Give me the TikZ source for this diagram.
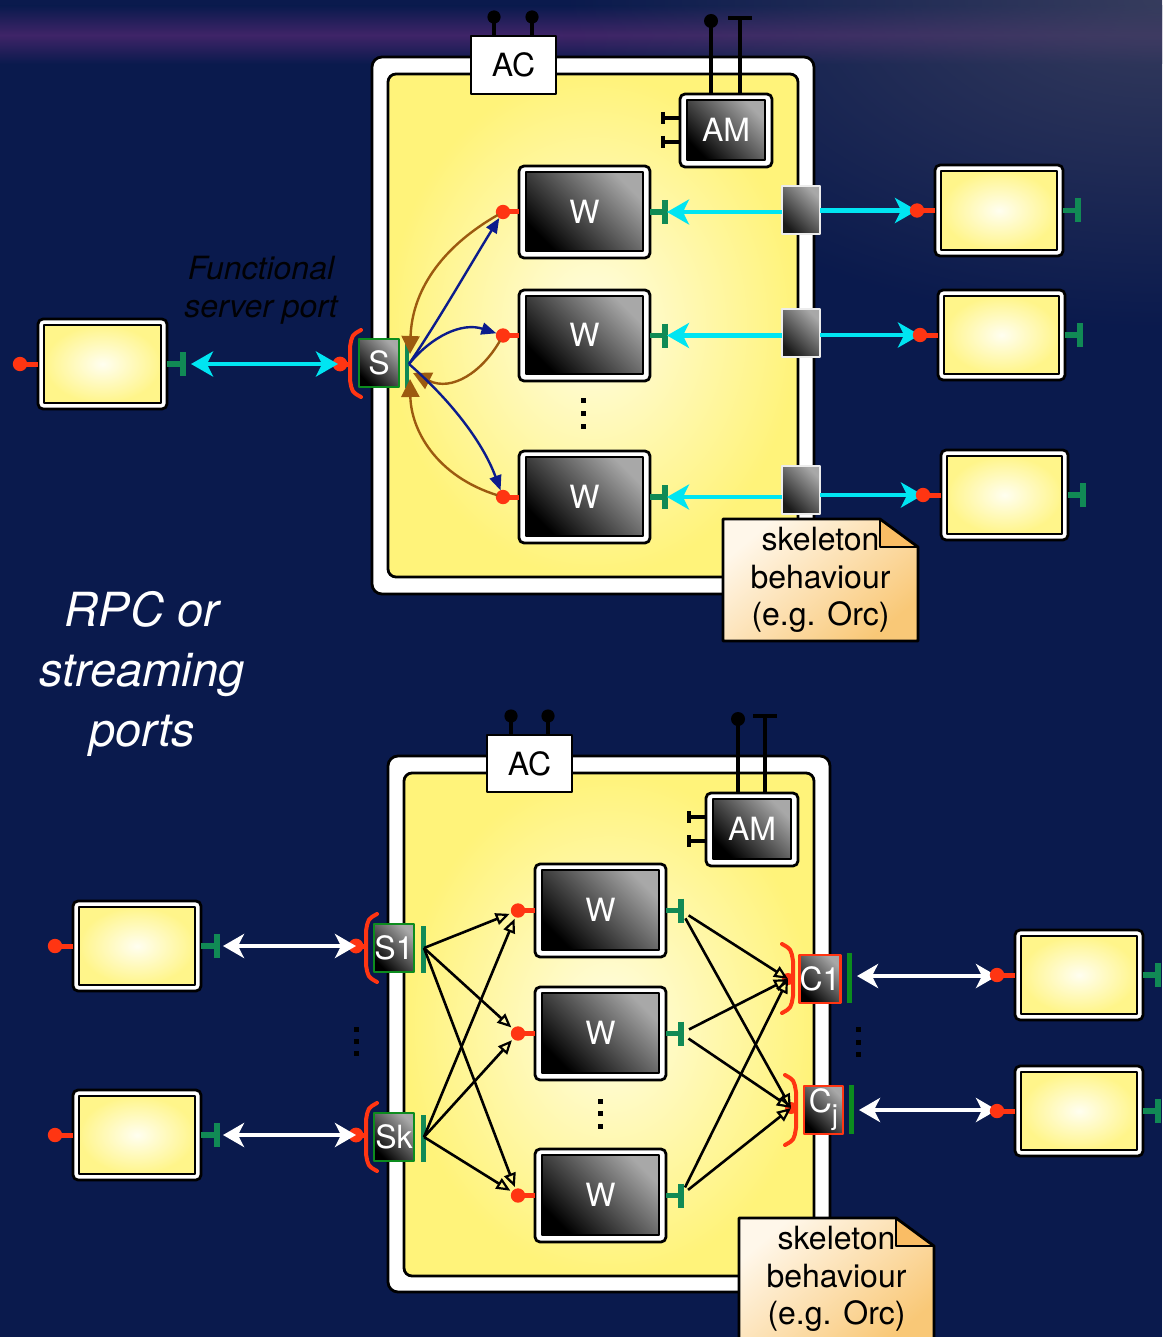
\documentclass[tikz,border=0pt]{standalone}
\usepackage{fontspec}
\setmainfont{TeX Gyre Heros}
\usetikzlibrary{arrows.meta,calc,fadings}

\definecolor{navybg}{HTML}{0A1A4D}
\definecolor{bandpurple}{HTML}{3F2468}
\definecolor{cornergrey}{HTML}{3E4260}
\definecolor{cyanA}{HTML}{00E5F2}
\definecolor{redP}{HTML}{FF3512}
\definecolor{tealT}{HTML}{118A55}
\definecolor{greenB}{HTML}{0C8C1E}
\definecolor{blueA}{HTML}{0C1C8C}
\definecolor{brownA}{HTML}{9C5A10}
\definecolor{ylight}{HTML}{FFFEF0}
\definecolor{ydeep}{HTML}{FFF58A}
\definecolor{cinner}{HTML}{FFFDE4}
\definecolor{couter}{HTML}{FFF37A}
\definecolor{noteA}{HTML}{FFF7EA}
\definecolor{noteB}{HTML}{F9C877}
\definecolor{dgrey}{HTML}{A8A8A8}

\tikzfading[name=cornerfade, inner color=transparent!15, outer color=transparent!100]

\newcommand\wfont{\fontsize{16}{16}\selectfont}

% box from pixel corners: name, style, x1, y1, x2, y2, text
\newcommand\bx[7]{%
  \pgfmathsetmacro\bxw{((#5)-(#3))/2}%
  \pgfmathsetmacro\bxh{((#6)-(#4))/2}%
  \pgfmathsetmacro\bxcx{((#3)+(#5))/2}%
  \pgfmathsetmacro\bxcy{((#4)+(#6))/2}%
  \node[#2,minimum width=\bxw pt,minimum height=\bxh pt] (#1) at (\bxcx,\bxcy) {#7};}
% worker: white frame with dark inner box
\newcommand\wk[6]{%
  \bx{#1f}{frame}{#2}{#3}{#4}{#5}{}%
  \bx{#1}{darkbox}{(#2)+7}{(#3)+6}{(#4)-7}{(#5)-7}{#6}}
% external component: white frame with yellow inner box
\newcommand\yb[5]{%
  \bx{#1f}{frame}{#2}{#3}{#4}{#5}{}%
  \bx{#1}{ybox}{(#2)+6}{(#3)+6}{(#4)-6}{(#5)-6}{}}
% red client port (lollipop) and green server port (T bar)
\newcommand\inport[3]{%
  \coordinate (#2) at ($(#1.west)+(-#3,0)$);
  \draw[redline] (#2) -- (#1.west);
  \fill[redP] (#2) circle (3.6pt);}
\newcommand\outport[3]{%
  \coordinate (#2) at ($(#1.east)+(#3,0)$);
  \draw[greenline] (#1.east) -- (#2);
  \draw[greenline] ($(#2)+(0,-12)$) -- ($(#2)+(0,12)$);}
% port brackets: body x, top y, bottom y
\newcommand\portbrL[3]{%
  \draw[redP, line width=2pt, line cap=round] ({#1+11},#2) .. controls ({#1+2},{#2+5}) .. (#1,{#2+17})
    -- (#1,{#3-17}) .. controls ({#1+2},{#3-5}) .. ({#1+11},#3);}
\newcommand\portbrR[3]{%
  \draw[redP, line width=2pt, line cap=round] ({#1-11},#2) .. controls ({#1-2},{#2+5}) .. (#1,{#2+17})
    -- (#1,{#3-17}) .. controls ({#1-2},{#3-5}) .. ({#1-11},#3);}
% note with folded corner: name, x1, y1, x2, y2, text
\newcommand\skelnote[6]{%
  \shade[top color=noteA, bottom color=noteB, shading angle=40]
    (#2,#3) -- ({#4-38},#3) -- (#4,{#3+28}) -- (#4,#5) -- (#2,#5) -- cycle;
  \fill[noteB!85!orange] ({#4-38},#3) -- (#4,{#3+28}) -- ({#4-38},{#3+28}) -- cycle;
  \draw[black, line width=1.4pt, line join=round]
    (#2,#5) -- (#2,#3) -- ({#4-38},#3) -- (#4,{#3+28}) -- (#4,#5) -- cycle;
  \draw[black, line width=1.2pt] ({#4-38},#3) -- ({#4-38},{#3+28}) -- (#4,{#3+28});
  \node[font=\fontsize{16}{18.8}\selectfont, align=center, inner sep=0pt] (#1) at ({(#2+#4)/2},{#3+61}) {#6};}

\begin{document}
\begin{tikzpicture}[x=0.5pt,y=-0.5pt, line join=round,
  frame/.style={draw=black, line width=1.4pt, fill=white, rounded corners=2.5pt, inner sep=0pt, outer sep=0pt},
  container/.style={frame, rounded corners=5pt},
  cinnerbox/.style={draw=black, line width=1.4pt, inner color=cinner, outer color=couter, rounded corners=4pt, inner sep=0pt, outer sep=0pt},
  ybox/.style={draw=black, line width=1.4pt, inner color=ylight, outer color=ydeep, inner sep=0pt, outer sep=0pt},
  darkbox/.style={draw=black, line width=1.4pt, top color=dgrey, bottom color=black, shading angle=-45, text=white, font=\wfont, inner sep=0pt, outer sep=0pt},
  sbox/.style={darkbox, draw=greenB, line width=1.3pt},
  cbox/.style={darkbox, draw=redP, line width=1.3pt},
  acbox/.style={draw=black, line width=1.4pt, fill=white, font=\wfont, inner sep=0pt, outer sep=0pt},
  sqbox/.style={draw=white!85!gray, line width=1pt, top color=dgrey, bottom color=black!90, shading angle=-45, inner sep=0pt, outer sep=0pt},
  redline/.style={draw=redP, line width=2.5pt},
  greenline/.style={draw=tealT, line width=2.6pt},
  stem/.style={draw=black, line width=2.4pt},
  cyanhead/.tip={Stealth[length=11pt,width=12.5pt,inset=3pt]},
  whitehead/.tip={Stealth[length=10.5pt,width=12pt,inset=3pt]},
  cyanarr/.style={draw=cyanA, line width=2.2pt, -cyanhead},
  cyandbl/.style={draw=cyanA, line width=2.2pt, cyanhead-cyanhead},
  whitedbl/.style={draw=white, line width=2.2pt, whitehead-whitehead},
  bluearr/.style={draw=blueA, line width=1.2pt, -{Triangle[length=7.5pt,width=6pt]}, shorten >=3.5pt},
  brownarr/.style={draw=brownA, line width=1.2pt, -{Triangle[length=9pt,width=9pt]}, shorten <=3pt},
  blkarr/.style={draw=black, line width=1.3pt, -{Triangle[open,length=7pt,width=6pt,line width=1.1pt]}}
]
\useasboundingbox (0,0) rectangle (1162,1337);

% background: navy with a purple haze band and a lighter top right corner
\fill[navybg] (0,0) rectangle (1162,1337);
\shade[top color=navybg, bottom color=navybg, middle color=bandpurple] (0,6) rectangle (1162,64);
\begin{scope}
  \clip (0,0) rectangle (1162,1337);
  \fill[cornergrey, path fading=cornerfade] (560,-330) rectangle (1760,330);
\end{scope}

% ---------------- upper composite ----------------
\bx{cA}{container}{372}{57}{814}{594}{}
\bx{cAin}{cinnerbox}{388}{74}{798}{577}{}

\bx{acA}{acbox}{471}{36}{556}{94}{AC}
\coordinate (acA1) at (494,17); \coordinate (acA2) at (532,17);
\draw[stem] (acA1) -- (acA1 |- acA.north); \fill (acA1) circle (3.3pt);
\draw[stem] (acA2) -- (acA2 |- acA.north); \fill (acA2) circle (3.3pt);

\wk{amA}{680}{94}{772}{167}{AM}
\coordinate (amA1) at (711,21); \coordinate (amA2) at (740,18);
\draw[stem] (amA1) -- (amA1 |- amAf.north); \fill (amA1) circle (3.5pt);
\draw[stem] (amA2) -- (amA2 |- amAf.north);
\draw[stem] ($(amA2)+(-12,0)$) -- ($(amA2)+(12,0)$);
\coordinate (amA3) at (663,118); \coordinate (amA4) at (663,142);
\draw[stem, line width=2pt] (amA3) -- (amA3 -| amAf.west);
\draw[stem, line width=2pt] ($(amA3)+(0,-6)$) -- ($(amA3)+(0,6)$);
\draw[stem, line width=2pt] (amA4) -- (amA4 -| amAf.west);
\draw[stem, line width=2pt] ($(amA4)+(0,-6)$) -- ($(amA4)+(0,6)$);

\wk{w1}{519}{166}{650}{258}{W}
\wk{w2}{519}{290}{650}{381}{W}
\wk{w3}{519}{451}{650}{543}{W}
\inport{w1f}{w1i}{16} \inport{w2f}{w2i}{16} \inport{w3f}{w3i}{16}
\outport{w1f}{w1o}{15} \outport{w2f}{w2o}{15} \outport{w3f}{w3o}{15}

\foreach \d in {400,413,426} \fill (580.5,\d-2.5) rectangle (585.5,\d+2.5);

% external components on the right
\yb{r1}{935}{165}{1063}{256}
\yb{r2}{938}{290}{1065}{380}
\yb{r3}{941}{450}{1068}{540}
\outport{r1f}{r1o}{15} \outport{r2f}{r2o}{15} \outport{r3f}{r3o}{15}

% boundary ports and cyan streams
\bx{sq1}{sqbox}{782}{186}{820}{234}{}
\bx{sq2}{sqbox}{782}{309}{820}{357}{}
\bx{sq3}{sqbox}{782}{466}{820}{514}{}
\draw[cyanarr, shorten >=1pt] (sq1.west |- w1o) -- (w1o);
\draw[cyanarr, shorten >=1pt] (sq2.west |- w2o) -- (w2o);
\draw[cyanarr, shorten >=1pt] (sq3.west |- w3o) -- (w3o);
\coordinate (r1i) at ($(r1f.west)+(-18,0)$);
\coordinate (r2i) at ($(r2f.west)+(-18,0)$);
\coordinate (r3i) at ($(r3f.west)+(-18,0)$);
\draw[cyanarr] (sq1.east |- r1i) -- (r1i);
\draw[cyanarr] (sq2.east |- r2i) -- (r2i);
\draw[cyanarr] (sq3.east |- r3i) -- (r3i);
\draw[redline] (r1i) -- (r1f.west); \fill[redP] (r1i) circle (3.6pt);
\draw[redline] (r2i) -- (r2f.west); \fill[redP] (r2i) circle (3.6pt);
\draw[redline] (r3i) -- (r3f.west); \fill[redP] (r3i) circle (3.6pt);

% client on the left and server port S
\yb{l1}{38}{319}{167}{409}
\inport{l1f}{l1i}{18}
\outport{l1f}{l1o}{16}
\coordinate (sIn) at (340,364);
\portbrL{350}{330}{397}
\bx{sA}{sbox}{359}{339}{399}{387}{S}
\draw[tealT, line width=1.6pt] (407,341) -- (407,388);
\draw[redline] (sIn) -- (350,364);
\fill[redP] (sIn) circle (3.7pt);
\draw[cyandbl, shorten <=4pt, shorten >=1pt] (l1o) -- (sIn);

\node[font=\fontsize{16}{19}\selectfont\itshape, text=black!95!navybg, align=center, inner sep=0pt] (fsp) at (261,290) {Functional\\server port};

% dispatch from S to the workers and back
\coordinate (sOut) at (409,364);
\coordinate (sTop) at (410,354);
\coordinate (sMid) at (413,373);
\coordinate (sBot) at (410,379);
\draw[brownarr] (w1i) .. controls (440,248) and (412,292) .. (sTop);
\draw[brownarr] (w2i) .. controls (482,372) and (452,392) .. (sMid);
\draw[brownarr] (w3i) .. controls (436,476) and (411,430) .. (sBot);
\draw[bluearr] (sOut) .. controls (440,318) and (472,262) .. (w1i);
\draw[bluearr] (sOut) .. controls (432,336) and (462,322) .. (w2i);
\draw[bluearr] (sOut) .. controls (448,398) and (482,440) .. (w3i);

\skelnote{noteA}{723}{519}{918}{641}{skeleton\\behaviour\\(e.g. Orc)}

% caption
\node[font=\fontsize{23.5}{30}\selectfont\itshape, text=white, align=center, inner sep=0pt] (cap) at (142,674) {RPC or\\streaming\\ports};

% ---------------- lower composite ----------------
\bx{cB}{container}{388}{756}{830}{1292}{}
\bx{cBin}{cinnerbox}{404}{773}{814}{1276}{}

\bx{acB}{acbox}{487}{735}{572}{792}{AC}
\coordinate (acB1) at (511,716); \coordinate (acB2) at (548,716);
\draw[stem] (acB1) -- (acB1 |- acB.north); \fill (acB1) circle (3.3pt);
\draw[stem] (acB2) -- (acB2 |- acB.north); \fill (acB2) circle (3.3pt);

\wk{amB}{706}{793}{798}{866}{AM}
\coordinate (amB1) at (738,719); \coordinate (amB2) at (765,716);
\draw[stem] (amB1) -- (amB1 |- amBf.north); \fill (amB1) circle (3.5pt);
\draw[stem] (amB2) -- (amB2 |- amBf.north);
\draw[stem] ($(amB2)+(-12,0)$) -- ($(amB2)+(12,0)$);
\coordinate (amB3) at (689,817); \coordinate (amB4) at (689,841);
\draw[stem, line width=2pt] (amB3) -- (amB3 -| amBf.west);
\draw[stem, line width=2pt] ($(amB3)+(0,-6)$) -- ($(amB3)+(0,6)$);
\draw[stem, line width=2pt] (amB4) -- (amB4 -| amBf.west);
\draw[stem, line width=2pt] ($(amB4)+(0,-6)$) -- ($(amB4)+(0,6)$);

\wk{w4}{535}{864}{666}{957}{W}
\wk{w5}{535}{987}{666}{1080}{W}
\wk{w6}{535}{1149}{666}{1242}{W}
\inport{w4f}{w4i}{17} \inport{w5f}{w5i}{17} \inport{w6f}{w6i}{17}
\outport{w4f}{w4o}{15} \outport{w5f}{w5o}{15} \outport{w6f}{w6o}{15}

\foreach \d in {1101,1113,1126} \fill (597.5,\d-2.5) rectangle (602.5,\d+2.5);
\foreach \d in {1029,1041,1053} \fill (354,\d-2.5) rectangle (359,\d+2.5);
\foreach \d in {1029,1042,1054} \fill (856,\d-2.5) rectangle (861,\d+2.5);

% server ports S1 .. Sk
\portbrL{366}{914}{982}
\bx{s1}{sbox}{374}{924}{414}{972}{S1}
\draw[tealT, line width=2.5pt] (423,926) -- (423,973);
\coordinate (s1i) at (356,946);
\draw[redline] (s1i) -- (366,946); \fill[redP] (s1i) circle (3.7pt);
\portbrL{366}{1103}{1171}
\bx{sk}{sbox}{374}{1113}{414}{1161}{Sk}
\draw[tealT, line width=2.5pt] (423,1115) -- (423,1162);
\coordinate (ski) at (356,1135);
\draw[redline] (ski) -- (366,1135); \fill[redP] (ski) circle (3.7pt);

% client ports C1 .. Cj
\portbrR{793}{944}{1013}
\bx{c1}{cbox}{800}{955}{840}{1003}{C1}
\draw[greenB, line width=2.5pt] (849,953) -- (849,1003);
\portbrR{796}{1075}{1145}
\bx{cj}{cbox}{804}{1086}{843}{1134}{C\raisebox{-6pt}{\fontsize{14}{14}\selectfont j}}
\draw[greenB, line width=2.5pt] (851,1085) -- (851,1134);
\coordinate (c1i) at (788,979);
\coordinate (cji) at (791,1108);
\fill[redP] (c1i) circle (3pt);
\fill[redP] (cji) circle (3pt);

% clients on the left
\yb{lb1}{73}{901}{201}{991}
\yb{lb2}{73}{1090}{201}{1180}
\inport{lb1f}{lb1i}{18} \inport{lb2f}{lb2i}{18}
\outport{lb1f}{lb1o}{16} \outport{lb2f}{lb2o}{16}
\draw[whitedbl, shorten <=3pt] (lb1o) -- (s1i);
\draw[whitedbl, shorten <=3pt] (lb2o) -- (ski);

% servers on the right
\yb{rb1}{1015}{930}{1143}{1020}
\yb{rb2}{1015}{1066}{1143}{1156}
\outport{rb1f}{rb1o}{15} \outport{rb2f}{rb2o}{15}
\coordinate (rb1i) at ($(rb1f.west)+(-18,0)$);
\coordinate (rb2i) at ($(rb2f.west)+(-18,0)$);
\coordinate (c1o) at (849,976);
\coordinate (cjo) at (851,1110);
\draw[whitedbl, shorten <=4pt] (c1o) -- (c1o -| rb1i);
\draw[whitedbl, shorten <=4pt] (cjo) -- (cjo -| rb2i);
\draw[redline] (rb1i) -- (rb1f.west); \fill[redP] (rb1i) circle (3.6pt);
\draw[redline] (rb2i) -- (rb2f.west); \fill[redP] (rb2i) circle (3.6pt);

% dispatch S -> W and W -> C
\coordinate (s1o) at (424,948);
\coordinate (sko) at (424,1137);
\foreach \s in {s1o,sko}
  \foreach \w in {w4i,w5i,w6i}
    \draw[blkarr, shorten >=4.5pt] (\s) -- (\w);
\foreach \w in {w4o,w5o,w6o}
  \foreach \c in {c1i,cji}
    \draw[blkarr, shorten <=4.5pt] (\w) -- (\c);

\skelnote{noteB}{739}{1218}{934}{1345}{skeleton\\behaviour\\(e.g. Orc)}
\end{tikzpicture}
\end{document}
